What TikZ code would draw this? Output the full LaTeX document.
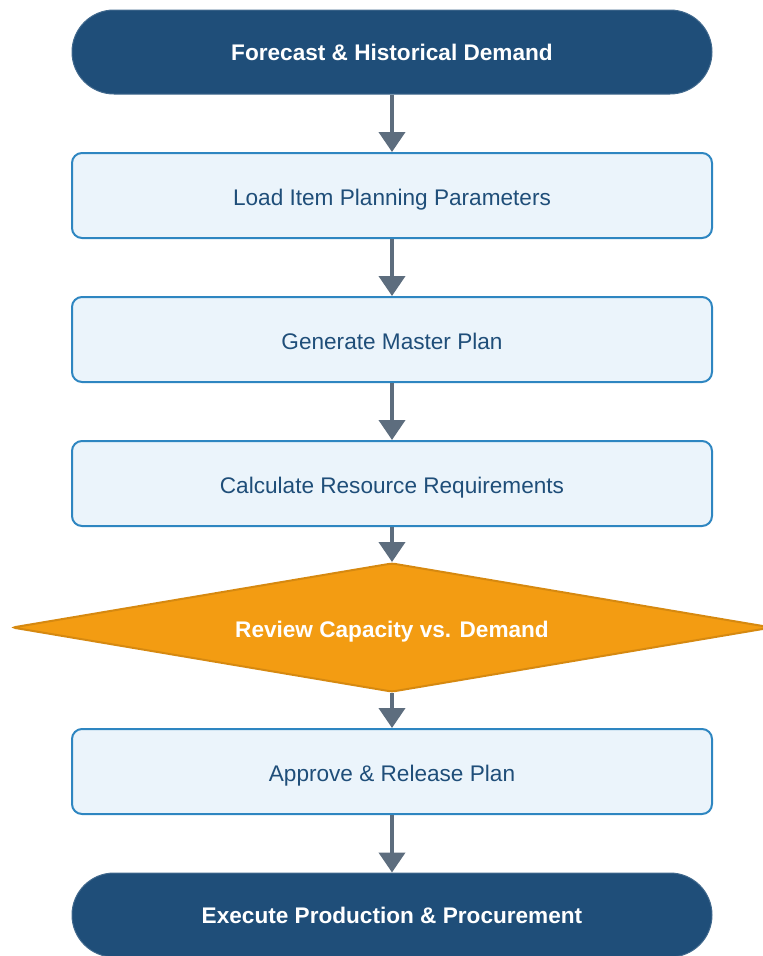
\documentclass[tikz,border=0pt]{standalone}
\usepackage{fontspec}
\setmainfont{Liberation Sans}
\usetikzlibrary{shapes.geometric,arrows.meta}
\definecolor{darkblue}{HTML}{1F4E79}
\definecolor{boxfill}{HTML}{EBF4FB}
\definecolor{boxborder}{HTML}{2E86C1}
\definecolor{arrowgray}{HTML}{5D6D7E}
\definecolor{orangefill}{HTML}{F39C12}
\definecolor{orangeborder}{HTML}{D68910}
\tikzset{
  terminal/.style={rectangle, rounded corners=42pt, fill=darkblue, draw=darkblue!85!white, line width=1pt,
    minimum width=640pt, minimum height=84pt, inner sep=0pt, text=white, text height=16.2pt, text depth=0pt,
    font=\fontsize{22.6}{26}\selectfont\bfseries},
  procbox/.style={rectangle, rounded corners=10pt, fill=boxfill, draw=boxborder, line width=2pt,
    minimum width=640pt, minimum height=85pt, inner sep=0pt, text=darkblue, text height=16.2pt, text depth=0pt,
    font=\fontsize{22.6}{26}\selectfont},
  boxlabel/.style={text=darkblue, text height=16.2pt, text depth=0pt, inner sep=0pt,
    font=\fontsize{22.6}{26}\selectfont},
  decision/.style={diamond, aspect=5.89, fill=orangefill, draw=orangeborder, line width=2pt, rounded corners=3pt,
    minimum width=760pt, minimum height=129pt, inner sep=0pt},
  decisionlabel/.style={text=white, text height=16.2pt, text depth=0pt, inner sep=0pt,
    font=\fontsize{22.6}{26}\selectfont\bfseries},
  flow/.style={draw=arrowgray, line width=4pt, -{Triangle[width=26pt,length=20pt]}}
}
\begin{document}
\begin{tikzpicture}[x=1pt,y=-1pt]
\useasboundingbox (0,0) rectangle (763,956);
\node[terminal] (n0) at (392,52) {Forecast \& Historical Demand};
\node[procbox] (n1) at (392,195.5) {};
\node[boxlabel] (l1) at (392,197) {Load Item Planning Parameters};
\node[procbox] (n2) at (392,339.5) {};
\node[boxlabel] (l2) at (392,341) {Generate Master Plan};
\node[procbox] (n3) at (392,483.5) {};
\node[boxlabel] (l3) at (392,485) {Calculate Resource Requirements};
\node[decision] (n4) at (392,627.5) {};
\node[decisionlabel] (l4) at (392,629) {Review Capacity vs. Demand};
\node[procbox] (n5) at (392,771.5) {};
\node[boxlabel] (l5) at (392,773) {Approve \& Release Plan};
\node[terminal] (n6) at (392,915) {Execute Production \& Procurement};
\draw[flow] (n0) -- (n1);
\draw[flow] (n1) -- (n2);
\draw[flow] (n2) -- (n3);
\draw[flow] (n3) -- (n4);
\draw[flow] (n4) -- (n5);
\draw[flow] (n5) -- (n6);
\end{tikzpicture}
\end{document}
